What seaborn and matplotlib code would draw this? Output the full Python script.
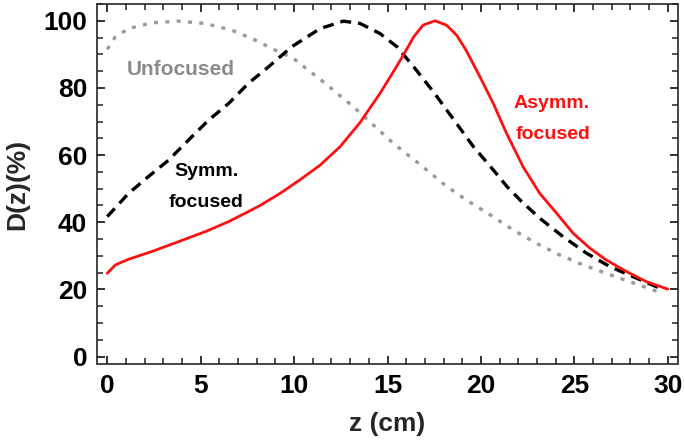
import numpy as np
import pandas as pd
import matplotlib
matplotlib.use("Agg")
import matplotlib.pyplot as plt
import seaborn as sns
from matplotlib.ticker import MultipleLocator

# values
z_unf = [0.0, 0.43, 1.14, 2.39, 3.8, 5.24, 6.67, 7.9, 8.98, 9.96, 10.3, 11.57, 13.17, 14.24,
         15.31, 16.9, 18.07, 19.23, 20.5, 21.73, 22.98, 24.2, 25.47, 26.7, 27.97, 29.5]
d_unf = [91.5, 95.2, 97.7, 99.4, 99.9, 99.2, 97.2, 94.3, 91.3, 88.8, 87.3, 81.8, 74.4, 69.0,
         63.5, 56.5, 51.1, 46.6, 42.2, 37.7, 33.7, 30.3, 27.3, 24.8, 22.3, 19.3]

z_sym = [0.0, 1.14, 2.2, 3.28, 4.35, 5.42, 6.5, 7.56, 8.63, 9.88, 11.4, 12.64, 13.53, 14.6,
         15.5, 16.4, 17.45, 18.5, 19.6, 20.66, 21.4, 22.1, 23.15, 24.4, 25.65, 26.9, 28.14, 29.57]
d_sym = [41.7, 48.6, 53.6, 58.5, 64.5, 70.4, 75.4, 81.4, 86.3, 92.3, 97.7, 99.9, 99.2, 96.2,
         92.3, 86.3, 78.9, 70.9, 62.5, 55.6, 50.6, 46.6, 41.2, 35.7, 30.8, 26.8, 23.8, 20.4]

z_asy = [0.0, 0.43, 1.14, 2.39, 3.8, 5.24, 6.5, 7.56, 8.18, 9.25, 10.3, 11.39, 12.46, 13.53,
         14.6, 15.31, 15.85, 16.4, 16.9, 17.54, 18.16, 18.7, 19.2, 19.95, 20.66, 21.37, 22.26,
         23.15, 24.05, 24.94, 25.83, 26.7, 27.8, 28.86, 30.0]
d_asy = [24.8, 27.3, 29.0, 31.3, 34.2, 37.2, 40.2, 43.2, 45.0, 48.6, 52.6, 57.0, 62.5, 69.7,
         78.4, 84.8, 89.8, 95.2, 98.7, 100.0, 98.7, 95.7, 91.3, 83.3, 75.4, 66.5, 56.5,
         48.6, 42.7, 36.7, 32.3, 28.8, 25.3, 22.3, 20.1]

df_unf = pd.DataFrame({"z": z_unf, "D": d_unf})
df_sym = pd.DataFrame({"z": z_sym, "D": d_sym})
df_asy = pd.DataFrame({"z": z_asy, "D": d_asy})

sns.set_style("ticks")
plt.rcParams["font.family"] = ["Liberation Sans", "DejaVu Sans"]
plt.rcParams["font.weight"] = "bold"
plt.rcParams["axes.axisbelow"] = False

fig = plt.figure(figsize=(6.85, 4.44), dpi=100)
ax = fig.add_axes([0.1416, 0.1802, 0.8482, 0.8108])

sns.lineplot(data=df_unf, x="z", y="D", ax=ax, color="#999999", lw=2.4,
             linestyle=(0, (1.2, 2.2)), dash_capstyle="butt", sort=False)
sns.lineplot(data=df_sym, x="z", y="D", ax=ax, color="black", lw=2.4,
             linestyle=(0, (3.3, 2.1)), sort=False)
sns.lineplot(data=df_asy, x="z", y="D", ax=ax, color="#ff1010", lw=2.0, sort=False)

ax.text(3.95, 85.4, "Unfocused", color="#8a8a8a", fontsize=15, fontweight="bold",
        ha="center", va="center")
ax.text(5.3, 55.1, "Symm.", color="black", fontsize=14, fontweight="bold",
        ha="center", va="center")
ax.text(5.3, 45.9, "focused", color="black", fontsize=14, fontweight="bold",
        ha="center", va="center")
ax.text(23.8, 75.5, "Asymm.", color="#ff1010", fontsize=14, fontweight="bold",
        ha="center", va="center")
ax.text(23.85, 66.0, "focused", color="#ff1010", fontsize=14, fontweight="bold",
        ha="center", va="center")

ax.set_xlim(-0.55, 30.55)
ax.set_ylim(-2.2, 105)
ax.set_axisbelow(False)
ax.xaxis.set_major_locator(MultipleLocator(5))
ax.xaxis.set_minor_locator(MultipleLocator(1))
ax.yaxis.set_major_locator(MultipleLocator(20))
ax.yaxis.set_minor_locator(MultipleLocator(5))
ax.tick_params(which="both", direction="in", top=True, right=True, bottom=True, left=True,
               color="#222222", labelcolor="black", labelsize=19, pad=7)
ax.tick_params(which="major", length=5.5, width=1.3)
ax.tick_params(which="minor", length=4, width=1.1)
for s in ax.spines.values():
    s.set_color("#444444")
    s.set_linewidth(1.4)

ax.set_xlabel("z (cm)", fontsize=19, fontweight="bold", labelpad=10)
ax.set_ylabel("D(z)(%)", fontsize=19, fontweight="bold", labelpad=10)

fig.savefig("out.png", dpi=100)
